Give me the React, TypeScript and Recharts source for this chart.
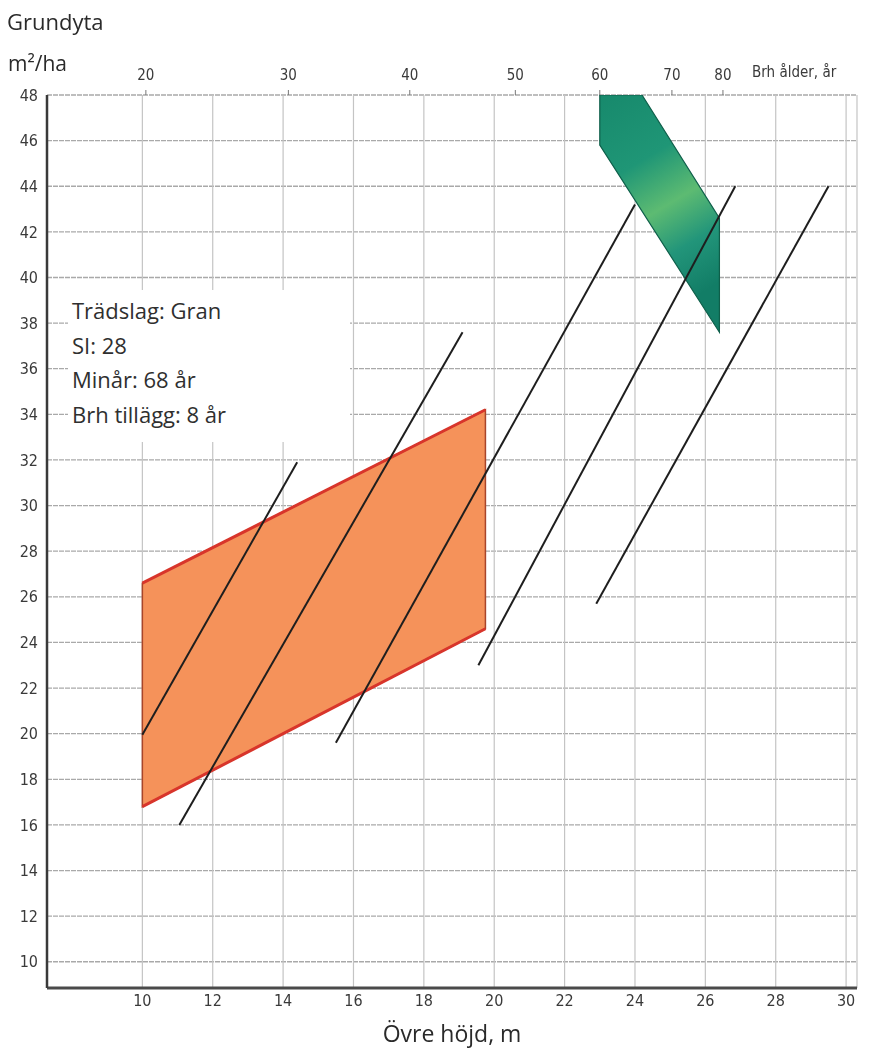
import { CartesianGrid, ComposedChart, Scatter, XAxis, YAxis } from "recharts";

// Övre höjd (m) on the x axis, grundyta (m²/ha) on the y axis
const heightTicks = [10, 12, 14, 16, 18, 20, 22, 24, 26, 28, 30];
const basalAreaTicks = [10, 12, 14, 16, 18, 20, 22, 24, 26, 28, 30, 32, 34, 36, 38, 40, 42, 44, 46, 48];

// top scale: breast height age and the height it sits at
const brhAges = [20, 30, 40, 50, 60, 70, 80];
const brhAgeHeights = [10.1, 14.15, 17.6, 20.6, 23.0, 25.05, 26.5];

const infoLines = ["Trädslag: Gran", "SI: 28", "Minår: 68 år", "Brh tillägg: 8 år"];

// orange field (corners in drawing order)
const orangeField = [
    { x: 10, y: 16.8 },
    { x: 10, y: 26.6 },
    { x: 19.75, y: 34.2 },
    { x: 19.75, y: 24.6 }
];

// green target field
const greenField = [
    { x: 23.0, y: 48 },
    { x: 24.2, y: 48 },
    { x: 26.4, y: 42.6 },
    { x: 26.4, y: 37.6 },
    { x: 23.0, y: 45.8 }
];

const guide1 = [{ x: 10, y: 19.95 }, { x: 14.4, y: 31.9 }];
const guide2 = [{ x: 11.05, y: 16.0 }, { x: 19.1, y: 37.6 }];
const guide3 = [{ x: 15.5, y: 19.6 }, { x: 24.0, y: 43.2 }];
const guide4 = [{ x: 19.55, y: 23.0 }, { x: 26.85, y: 44.0 }];
const guide5 = [{ x: 22.9, y: 25.7 }, { x: 29.5, y: 44.0 }];
const guides = [guide1, guide2, guide3, guide4, guide5];

// anchors so the top age axis has something to scale against
const ageAnchors = brhAgeHeights.map((h) => ({ x: h, y: 48 }));

const tickFont = "'DejaVu Sans Condensed', 'Liberation Sans Narrow', sans-serif";
const textFont = "'Open Sans', 'Noto Sans', sans-serif";

type Pt = { x: number; y: number };

const noDot = () => <g />;

function OrangeShape(props: any) {
    const p: Pt[] = props.points || [];
    if (p.length < 4) return <g />;
    const pts = p.map((q) => `${q.x},${q.y}`).join(" ");
    return (
        <g>
            <polygon
                points={pts}
                fill="#F5925A"
                stroke="#A8452A"
                strokeWidth={1.5}
                style={{ mixBlendMode: "multiply" }}
            />
            <line x1={p[1].x} y1={p[1].y} x2={p[2].x} y2={p[2].y} stroke="#D8352B" strokeWidth={3} />
            <line x1={p[3].x} y1={p[3].y} x2={p[0].x} y2={p[0].y} stroke="#D8352B" strokeWidth={3} />
        </g>
    );
}

function GreenShape(props: any) {
    const p: Pt[] = props.points || [];
    if (p.length < 5) return <g />;
    const pts = p.map((q) => `${q.x},${q.y}`).join(" ");
    return (
        <g>
            <defs>
                <linearGradient id="greenFill" x1="0" y1="0" x2="0.3" y2="1">
                    <stop offset="0%" stopColor="#17896C" />
                    <stop offset="35%" stopColor="#1F9676" />
                    <stop offset="58%" stopColor="#5DBB72" />
                    <stop offset="78%" stopColor="#22957A" />
                    <stop offset="100%" stopColor="#127D66" />
                </linearGradient>
            </defs>
            <polygon
                points={pts}
                fill="url(#greenFill)"
                stroke="#0E5F4A"
                strokeWidth={1.2}
                style={{ mixBlendMode: "multiply" }}
            />
        </g>
    );
}

function GuideLine(props: any) {
    const p: Pt[] = props.points || [];
    if (p.length < 2) return <g />;
    return <line x1={p[0].x} y1={p[0].y} x2={p[1].x} y2={p[1].y} stroke="#1E1E1E" strokeWidth={2} />;
}

export default function App() {
    return (
        <div style={{ position: "absolute", left: 0, top: 0, width: 881, height: 1054, background: "#fff" }}>
            <ComposedChart width={881} height={1054} margin={{ top: 65, right: 24, bottom: 0, left: 7 }}>
                <CartesianGrid
                    xAxisId="bottom"
                    yAxisId="left"
                    vertical={false}
                    stroke="#a9a9a9"
                    strokeWidth={1.3}
                    strokeDasharray="5 1"
                />
                <CartesianGrid
                    xAxisId="bottom"
                    yAxisId="left"
                    horizontal={false}
                    stroke="#c4c4c4"
                    strokeWidth={1.2}
                />
                <XAxis
                    xAxisId="bottom"
                    dataKey="x"
                    type="number"
                    domain={[7.29, 30.31]}
                    allowDataOverflow
                    ticks={heightTicks}
                    height={66}
                    tickLine={false}
                    tickSize={0}
                    tickMargin={7}
                    axisLine={{ stroke: "#4a4a4a", strokeWidth: 3 }}
                    tick={{ fill: "#3a3a3a", fontSize: 16, fontFamily: tickFont }}
                    label={{
                        value: "Övre höjd, m",
                        position: "insideBottom",
                        offset: 12,
                        fill: "#2a2a2a",
                        fontSize: 23,
                        fontFamily: textFont
                    }}
                />
                <XAxis
                    xAxisId="top"
                    dataKey="x"
                    orientation="top"
                    type="number"
                    domain={[7.29, 30.31]}
                    allowDataOverflow
                    ticks={brhAgeHeights}
                    tickFormatter={(v: number) => String(brhAges[brhAgeHeights.indexOf(v)] ?? "")}
                    height={30}
                    axisLine={false}
                    tickSize={5}
                    tickMargin={10}
                    tickLine={{ stroke: "#777" }}
                    tick={{ fill: "#3a3a3a", fontSize: 15, fontFamily: tickFont }}
                />
                <YAxis
                    yAxisId="left"
                    dataKey="y"
                    type="number"
                    domain={[8.85, 48]}
                    allowDataOverflow
                    ticks={basalAreaTicks}
                    width={40}
                    tickLine={false}
                    tickSize={0}
                    tickMargin={9}
                    axisLine={{ stroke: "#3a3a3a", strokeWidth: 2.5 }}
                    tick={{ fill: "#3a3a3a", fontSize: 16, fontFamily: tickFont }}
                />
                <Scatter
                    xAxisId="top"
                    yAxisId="left"
                    data={ageAnchors}
                    shape={noDot}
                    isAnimationActive={false}
                />
                <Scatter
                    xAxisId="bottom"
                    yAxisId="left"
                    data={orangeField}
                    line={OrangeShape}
                    lineType="joint"
                    shape={noDot}
                    isAnimationActive={false}
                />
                <Scatter
                    xAxisId="bottom"
                    yAxisId="left"
                    data={greenField}
                    line={GreenShape}
                    lineType="joint"
                    shape={noDot}
                    isAnimationActive={false}
                />
                {guides.map((g, i) => (
                    <Scatter
                        key={i}
                        xAxisId="bottom"
                        yAxisId="left"
                        data={g}
                        line={GuideLine}
                        lineType="joint"
                        shape={noDot}
                        isAnimationActive={false}
                    />
                ))}
            </ComposedChart>

            <div style={{ position: "absolute", left: 7, top: 5, fontFamily: textFont, fontSize: 22, color: "#2a2a2a", lineHeight: "32px" }}>
                Grundyta
            </div>
            <div style={{ position: "absolute", left: 8, top: 47, fontFamily: textFont, fontSize: 21, color: "#2a2a2a", lineHeight: "32px" }}>
                m²/ha
            </div>
            <div style={{ position: "absolute", left: 752, top: 62, fontFamily: tickFont, fontSize: 15, color: "#3a3a3a", lineHeight: "20px" }}>
                Brh ålder, år
            </div>
            <div
                style={{
                    position: "absolute",
                    left: 68,
                    top: 290,
                    width: 282,
                    height: 152,
                    background: "#fff",
                    fontFamily: textFont,
                    fontSize: 22,
                    color: "#2f2f2f",
                    paddingLeft: 4,
                    paddingTop: 3,
                    boxSizing: "border-box"
                }}
            >
                {infoLines.map((t) => (
                    <div key={t} style={{ lineHeight: "34.5px", height: 34.5 }}>
                        {t}
                    </div>
                ))}
            </div>
        </div>
    );
}
